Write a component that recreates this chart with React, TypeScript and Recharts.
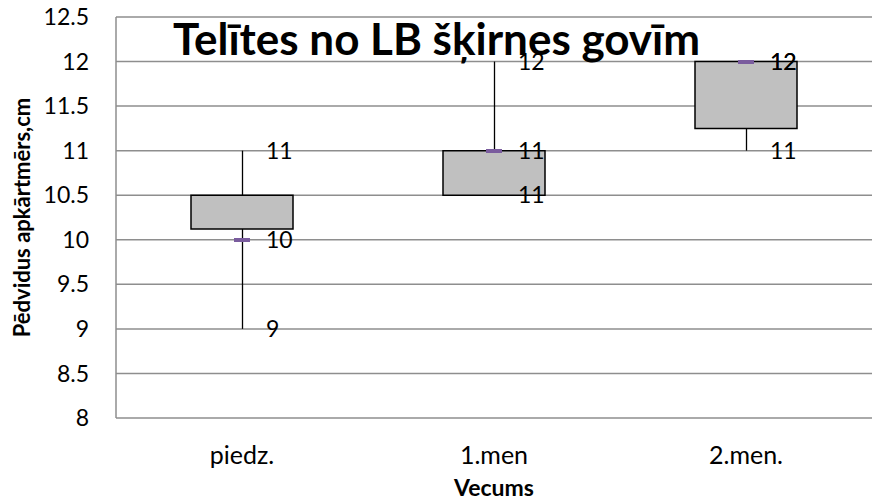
import React from "react";
import {
  ComposedChart,
  Bar,
  Line,
  XAxis,
  YAxis,
  CartesianGrid,
  LabelList,
} from "recharts";

// categories and box values
const categories = ["piedz.", "1.men", "2.men."];
const lowVals = [9, 10.5, 11];
const boxBottom = [10.12, 10.5, 11.25];
const boxTop = [10.5, 11, 12];
const highVals = [11, 12, 12];
const closeVals = [10, 11, 12];
const yTicks = [8, 8.5, 9, 9.5, 10, 10.5, 11, 11.5, 12, 12.5];

const data = categories.map((name, i) => ({
  name,
  whisker: [lowVals[i], highVals[i]],
  box: [boxBottom[i], boxTop[i]],
  low: lowVals[i],
  high: highVals[i],
  close: closeVals[i],
}));

const FONT = "Lato, 'Open Sans', sans-serif";
const GRID = "#8e8e8e";

const Whisker = (props: any) => {
  const { x, y, width, height } = props;
  const cx = Math.round(x + width / 2) + 0.5;
  return <line x1={cx} x2={cx} y1={y} y2={y + height} stroke="#000" strokeWidth={1.3} />;
};

const MedianDot = (props: any) => {
  const { cx, cy } = props;
  if (cx == null || cy == null) return null;
  return <rect x={Math.round(cx - 8)} y={Math.round(cy - 2)} width={16} height={4} fill="#7a5c9e" />;
};

const labelStyle = { fontFamily: FONT, fontSize: 23, fill: "#000" };
const fmt = (v: any) => Math.round(Number(v)).toString();

export default function App() {
  return (
    <div style={{ position: "absolute", left: 0, top: 0, width: 873, height: 500, background: "#fff" }}>
      <ComposedChart
        width={873}
        height={500}
        data={data}
        margin={{ top: 17, right: 1, left: 0, bottom: 0 }}
      >
        <CartesianGrid vertical={false} stroke={GRID} strokeWidth={1.5} />
        <XAxis
          xAxisId="main"
          dataKey="name"
          height={82}
          tickLine={false}
          axisLine={false}
          tickMargin={28}
          tickSize={0}
          tick={{ fontFamily: FONT, fontSize: 25, fill: "#000" }}
          label={{
            value: "Vecums",
            position: "insideBottom",
            offset: 4,
            style: { fontFamily: FONT, fontSize: 23, fontWeight: 700, fill: "#000" },
          }}
        />
        <XAxis xAxisId="whisk" dataKey="name" hide />
        <YAxis
          width={116}
          domain={[8, 12.5]}
          ticks={yTicks}
          interval={0}
          tickLine={false}
          tickSize={0}
          tickMargin={27}
          axisLine={{ stroke: GRID, strokeWidth: 1.5 }}
          tick={{ fontFamily: FONT, fontSize: 23, fill: "#000" }}
          label={{
            value: "Pēdvidus apkārtmērs,cm",
            angle: -90,
            position: "insideLeft",
            offset: 22,
            style: { fontFamily: FONT, fontSize: 22, fontWeight: 700, fill: "#000", textAnchor: "middle" },
          }}
        />
        <Bar xAxisId="whisk" dataKey="whisker" barSize={102} shape={<Whisker />} isAnimationActive={false} />
        <Bar
          xAxisId="main"
          dataKey="box"
          barSize={102}
          fill="#c0c0c0"
          stroke="#000"
          strokeWidth={1.5}
          isAnimationActive={false}
        />
        <Line xAxisId="main" dataKey="high" stroke="none" dot={false} activeDot={false} isAnimationActive={false}>
          <LabelList dataKey="high" position="right" offset={24} formatter={fmt} style={labelStyle} />
        </Line>
        <Line xAxisId="main" dataKey="low" stroke="none" dot={false} activeDot={false} isAnimationActive={false}>
          <LabelList dataKey="low" position="right" offset={24} formatter={fmt} style={labelStyle} />
        </Line>
        <Line xAxisId="main" dataKey="close" stroke="none" dot={<MedianDot />} activeDot={false} isAnimationActive={false}>
          <LabelList dataKey="close" position="right" offset={24} formatter={fmt} style={labelStyle} />
        </Line>
      </ComposedChart>
      <div
        style={{
          position: "absolute",
          left: 0,
          top: 12,
          width: 873,
          textAlign: "center",
          fontFamily: FONT,
          fontWeight: 700,
          fontSize: 44,
          lineHeight: "53px",
          color: "#000",
          pointerEvents: "none",
        }}
      >
        Telītes no LB šķirnes govīm
      </div>
    </div>
  );
}
